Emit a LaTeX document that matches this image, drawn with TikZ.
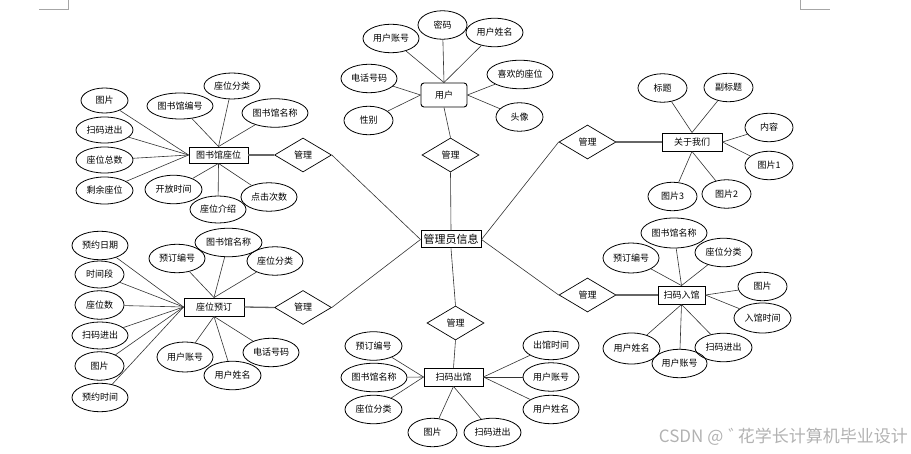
\documentclass[tikz,border=0pt]{standalone}
\usepackage{fontspec}
\setmainfont{Noto Sans CJK SC}
\usetikzlibrary{shapes.geometric}
\begin{document}
\begin{tikzpicture}[x=1pt,y=-1pt,
  attr/.style={ellipse,draw=black,line width=0.8pt,inner sep=0pt,minimum width=#1,minimum height=28.5pt,font=\fontsize{9}{10}\selectfont},
  ent/.style={rectangle,draw=black,line width=0.9pt,inner sep=0pt,minimum width=#1,minimum height=18pt,font=\fontsize{9}{10}\selectfont},
  rel/.style={diamond,draw=black,line width=0.7pt,inner sep=0pt,minimum width=57pt,minimum height=34pt,font=\fontsize{9}{10}\selectfont},
  link/.style={draw=black!80,line width=0.6pt},
  bond/.style={draw=black!60,line width=1.3pt},
  cornermark/.style={draw=black!35,line width=0.6pt},
]
\useasboundingbox (0,0) rectangle (911,454);

% page corner marks
\coordinate (cl1) at (39,9); \coordinate (cl2) at (68,9); \coordinate (cl3) at (68,0);
\coordinate (cr1) at (800,0); \coordinate (cr2) at (800,9); \coordinate (cr3) at (830,9);
\draw[cornermark] (cl1) -- (cl2) -- (cl3);
\draw[cornermark] (cr1) -- (cr2) -- (cr3);

% central entity
\node[rectangle,draw=black,line width=1pt,inner sep=0pt,minimum width=60pt,minimum height=17pt,font=\fontsize{11}{12}\selectfont] (admin) at (451,239.5) {管理员信息};

% relationship diamonds
\node[rel] (d1) at (450.5,155) {管理};
\node[rel] (dL1) at (303,155) {管理};
\node[rel] (dR1) at (587.5,142) {管理};
\node[rel] (dR2) at (587.5,295) {管理};
\node[rel] (dL2) at (303,307.5) {管理};
\node[rel] (dB) at (455.5,323) {管理};

% ---- user ----
\node[ent=46pt,minimum height=24pt,rounded corners=3pt] (user) at (444,95) {用户};
\node[attr=49pt] (u1) at (442.5,25) {密码};
\node[attr=56pt] (u2) at (391,38.5) {用户账号};
\node[attr=57pt] (u3) at (494.5,32.5) {用户姓名};
\node[attr=56pt] (u4) at (369,78.5) {电话号码};
\node[attr=49pt] (u5) at (368.5,120.5) {性别};
\node[attr=66pt] (u6) at (520,74.5) {喜欢的座位};
\node[attr=47pt] (u7) at (519.5,117) {头像};
\foreach \n in {u1,u2,u3} \draw[link] (\n) -- (user.north);
\foreach \n in {u4,u5} \draw[link] (\n) -- (user.west);
\foreach \n in {u6,u7} \draw[link] (\n) -- (user.east);
\draw[link] (user.south) -- (d1.north);
\draw[link] (d1.south) -- (admin.north);

% ---- library seat ----
\node[ent=59pt,minimum height=16pt] (lib) at (218.5,155) {图书馆座位};
\node[attr=47pt,minimum height=25pt] (l1) at (104.5,100.5) {图片};
\node[attr=57pt,minimum height=26pt] (l2) at (104.5,130) {扫码进出};
\node[attr=57pt,minimum height=26pt] (l3) at (104.5,160) {座位总数};
\node[attr=57pt,minimum height=27pt] (l4) at (104.5,190.5) {剩余座位};
\node[attr=66pt,minimum height=26pt] (l5) at (180,106) {图书馆编号};
\node[attr=56pt,minimum height=26pt] (l6) at (232,86) {座位分类};
\node[attr=66pt] (l7) at (275,113) {图书馆名称};
\node[attr=57pt] (l8) at (173.5,189.5) {开放时间};
\node[attr=56pt,minimum height=27pt] (l9) at (218,209.5) {座位介绍};
\node[attr=56pt] (l10) at (269,197) {点击次数};
\foreach \n in {l1,l2,l3,l4} \draw[link] (\n) -- (lib.west);
\foreach \n in {l5,l6,l7} \draw[link] (\n) -- (lib.north);
\foreach \n in {l8,l9,l10} \draw[link] (\n) -- (lib.south);
\draw[bond] (lib.east) -- (dL1.west);
\draw[link] (dL1.east) -- (admin.west);

% ---- about us ----
\node[ent=60pt] (about) at (692,142) {关于我们};
\node[attr=49pt] (a1) at (662.5,88) {标题};
\node[attr=49pt] (a2) at (728.5,87.5) {副标题};
\node[attr=48pt] (a3) at (769,127.5) {内容};
\node[attr=48pt] (a4) at (769,165.5) {图片1};
\node[attr=49pt] (a5) at (672.5,196.5) {图片3};
\node[attr=49pt] (a6) at (726.5,194) {图片2};
\foreach \n in {a1,a2} \draw[link] (\n) -- (about.north);
\foreach \n in {a3,a4} \draw[link] (\n) -- (about.east);
\foreach \n in {a5,a6} \draw[link] (\n) -- (about.south);
\draw[bond] (dR1.east) -- (about.west);
\draw[link] (dR1.west) -- (admin.east);

% ---- seat reservation ----
\node[ent=60pt] (resv) at (214,307) {座位预订};
\node[attr=56pt] (r1) at (100,245.5) {预约日期};
\node[attr=49pt,minimum height=27pt] (r2) at (99.5,274.5) {时间段};
\node[attr=49pt] (r3) at (99.5,305) {座位数};
\node[attr=56pt,minimum height=27pt] (r4) at (100,335.5) {扫码进出};
\node[attr=49pt] (r5) at (99.5,366) {图片};
\node[attr=56pt] (r6) at (100,397.5) {预约时间};
\node[attr=56pt] (r7) at (177,258.5) {预订编号};
\node[attr=67pt] (r8) at (228.5,242.5) {图书馆名称};
\node[attr=56pt] (r9) at (275,261) {座位分类};
\node[attr=56pt,minimum height=30pt] (r10) at (185,357) {用户账号};
\node[attr=57pt] (r11) at (232.5,375.5) {用户姓名};
\node[attr=56pt] (r12) at (271,352.5) {电话号码};
\foreach \n in {r1,r2,r3,r4,r5,r6} \draw[link] (\n) -- (resv.west);
\foreach \n in {r7,r8,r9} \draw[link] (\n) -- (resv.north);
\foreach \n in {r10,r11,r12} \draw[link] (\n) -- (resv.south);
\draw[bond] (resv.east) -- (dL2.west);
\draw[link] (dL2.east) -- (admin.west);

% ---- check out ----
\node[ent=59pt] (out) at (453.5,377) {扫码出馆};
\node[attr=57pt] (o1) at (373.5,346) {预订编号};
\node[attr=66pt] (o2) at (374,377.5) {图书馆名称};
\node[attr=57pt] (o3) at (373.5,409.5) {座位分类};
\node[attr=56pt] (o4) at (551,345.5) {出馆时间};
\node[attr=56pt] (o5) at (551,377) {用户账号};
\node[attr=56pt] (o6) at (551,409.5) {用户姓名};
\node[attr=49pt] (o7) at (432.5,432.5) {图片};
\node[attr=57pt] (o8) at (492.5,432.5) {扫码进出};
\foreach \n in {o1,o2,o3} \draw[link] (\n) -- (out.west);
\foreach \n in {o4,o5,o6} \draw[link] (\n) -- (out.east);
\foreach \n in {o7,o8} \draw[link] (\n) -- (out.south);
\draw[link] (dB.south) -- (out.north);
\draw[link] (admin.south) -- (dB.north);

% ---- check in ----
\node[ent=47pt] (in) at (681.5,295) {扫码入馆};
\node[attr=66pt,minimum height=30pt] (i1) at (674,233) {图书馆名称};
\node[attr=56pt,minimum height=30pt] (i2) at (631,258) {预订编号};
\node[attr=57pt] (i3) at (723.5,252.5) {座位分类};
\node[attr=49pt] (i4) at (762.5,286.5) {图片};
\node[attr=57pt,minimum height=30pt] (i5) at (762.5,318) {入馆时间};
\node[attr=57pt,minimum height=31pt] (i6) at (631.5,348.5) {用户姓名};
\node[attr=55pt] (i7) at (679.5,363.5) {用户账号};
\node[attr=57pt] (i8) at (723.5,347.5) {扫码进出};
\foreach \n in {i1,i2,i3} \draw[link] (\n) -- (in.north);
\foreach \n in {i4,i5} \draw[link] (\n) -- (in.east);
\foreach \n in {i6,i7,i8} \draw[link] (\n) -- (in.south);
\draw[bond] (dR2.east) -- (in.west);
\draw[link] (dR2.west) -- (admin.east);

% watermark
\node[text=black!30,font=\fontsize{17}{18}\selectfont,inner sep=0pt,anchor=east] (wm) at (908,437) {CSDN @\hspace{0.3em}゛\hspace{-0.45em}花学长计算机毕业设计};
\end{tikzpicture}
\end{document}
